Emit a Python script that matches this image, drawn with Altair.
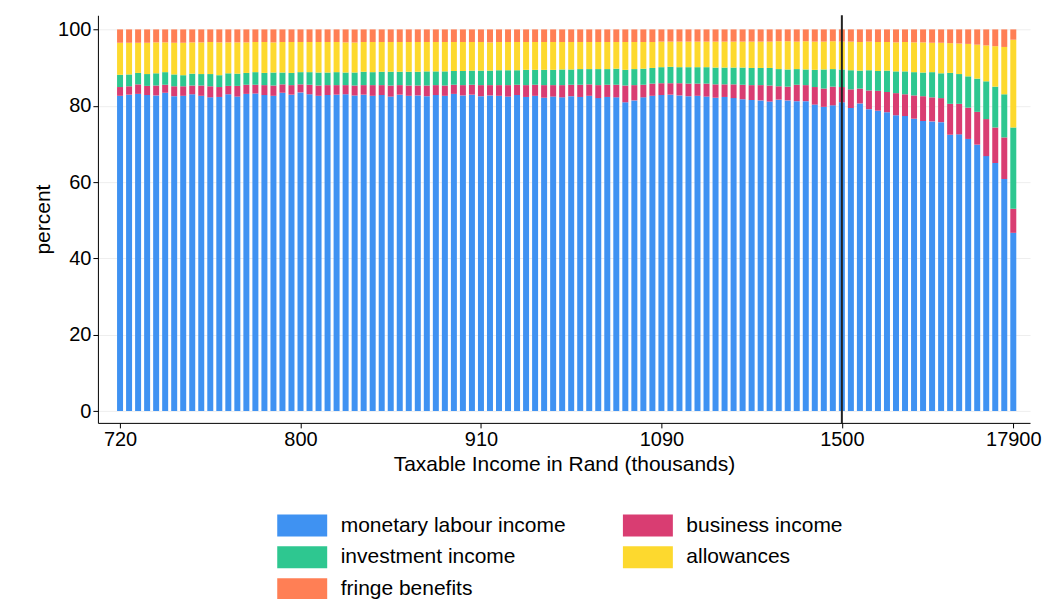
import pandas as pd
import altair as alt

labour = [82.6, 82.9, 83.1, 82.8, 82.7, 83.4, 82.5, 82.6, 83.0, 82.6, 82.2, 82.3, 83.0, 82.4, 83.1, 83.2, 82.8, 82.6, 83.4, 82.9,
          83.5, 83.0, 82.6, 82.8, 82.9, 83.0, 82.7, 82.9, 82.6, 82.8, 82.4, 82.9, 82.6, 82.7, 82.5, 82.8, 82.6, 83.1, 82.7, 82.9,
          82.5, 82.7, 82.6, 82.4, 82.8, 82.3, 82.6, 82.1, 82.4, 82.2, 82.5, 82.3, 82.6, 82.0, 82.3, 82.2, 80.9, 81.4, 82.2, 82.6,
          82.8, 82.9, 82.7, 82.5, 82.6, 82.4, 82.1, 82.3, 82.0, 81.7, 81.5, 81.4, 81.1, 81.6, 81.4, 81.2, 81.2, 80.3, 79.7, 80.1,
          80.9, 79.4, 80.6, 79.1, 78.7, 78.3, 77.5, 77.3, 76.6, 76.0, 75.9, 75.7, 72.4, 72.5, 71.3, 69.8, 66.8, 65.0, 60.8, 46.7]
business = [2.3, 2.2, 2.5, 2.4, 2.6, 2.1, 2.6, 2.5, 2.3, 2.7, 2.9, 2.6, 2.2, 2.8, 2.4, 2.3, 2.6, 2.7, 2.2, 2.5,
            2.1, 2.5, 2.7, 2.6, 2.5, 2.4, 2.6, 2.5, 2.8, 2.6, 2.9, 2.5, 2.7, 2.6, 2.8, 2.6, 2.7, 2.4, 2.7, 2.6,
            2.9, 2.7, 2.8, 3.0, 2.7, 3.1, 2.9, 3.3, 3.0, 3.2, 3.0, 3.2, 3.0, 3.4, 3.2, 3.3, 4.4, 4.0, 3.3, 3.2,
            3.1, 3.0, 3.2, 3.3, 3.2, 3.4, 3.5, 3.3, 3.6, 3.8, 3.9, 4.0, 4.2,
            3.5, 3.6, 4.3, 4.2, 4.6, 4.8, 4.9, 4.0, 4.9, 3.9, 4.9, 5.2, 5.3, 5.8, 5.7, 6.1, 6.5, 6.3, 6.3, 8.1,
            8.0, 8.2, 8.6, 9.7, 9.3, 10.9, 6.3]
investment = [3.2, 3.1, 3.0, 3.1, 3.2, 3.3, 3.1, 2.9, 3.1, 3.0, 3.2, 3.1, 3.3, 3.2, 3.1, 3.3, 3.2, 3.4, 3.1, 3.2,
              3.2, 3.3, 3.4, 3.3, 3.4, 3.3, 3.4, 3.5, 3.4, 3.5, 3.6, 3.5, 3.6, 3.6, 3.7, 3.6, 3.7, 3.6, 3.7, 3.7,
              3.8, 3.8, 3.9, 3.9, 3.8, 4.0, 3.9, 4.0, 4.0, 4.1, 4.0, 4.1, 4.0, 4.2, 4.1, 4.2, 4.1, 4.2, 4.2, 4.1,
              4.2, 4.3, 4.2, 4.3, 4.3, 4.3, 4.4, 4.4, 4.4, 4.5, 4.5, 4.5, 4.6,
              4.5, 4.5, 4.1, 4.1, 4.5, 5.0, 4.6, 4.6, 5.0, 4.7, 5.3, 5.2, 5.6, 5.7, 6.0, 6.1, 6.2, 6.6, 6.5, 8.1,
              7.8, 8.2, 8.7, 9.9, 10.7, 11.3, 21.3]
allowances = [8.4, 8.3, 7.9, 8.2, 8.1, 7.8, 8.3, 8.5, 8.2, 8.3, 8.4, 8.6, 8.1, 8.2, 8.0, 7.9, 8.1, 7.9, 8.0, 8.1,
              7.9, 7.9, 8.0, 8.0, 7.9, 7.9, 7.9, 7.8, 7.9, 7.8, 7.8, 7.8, 7.8, 7.8, 7.7, 7.7, 7.7, 7.6, 7.6, 7.5,
              7.5, 7.4, 7.4, 7.4, 7.4, 7.3, 7.3, 7.3, 7.3, 7.2, 7.2, 7.1, 7.1, 7.1, 7.1, 7.0, 7.3, 7.1, 7.0, 6.8,
              6.7, 6.6, 6.7, 6.7, 6.7, 6.7, 6.8, 6.8, 6.8, 6.8, 6.9, 6.9, 6.9,
              7.3, 7.4, 7.2, 7.4, 7.4, 7.3, 7.3, 7.3, 7.5, 7.5, 7.5, 7.6, 7.5, 7.6, 7.7, 7.8, 7.9, 7.7, 8.0, 7.8,
              8.0, 8.5, 8.9, 9.4, 10.6, 12.4, 23.0]
tick_values = [0, 20, 40, 60, 80, 99]
tick_labels = ["720", "800", "910", "1090", "1500", "17900"]
series = ["monetary labour income", "business income", "investment income", "allowances", "fringe benefits"]
colors = ["#3f92f2", "#d93d72", "#2ec790", "#fdd92e", "#ff7f55"]

rows = []
for i in range(len(labour)):
    fringe = 100 - labour[i] - business[i] - investment[i] - allowances[i]
    vals = [labour[i], business[i], investment[i], allowances[i], fringe]
    for k, (s, v) in enumerate(zip(series, vals)):
        rows.append({"bin": i, "source": s, "pct": v, "order": k})
df = pd.DataFrame(rows)

label_map = "{" + ",".join(f"'{v}':'{l}'" for v, l in zip(tick_values, tick_labels)) + "}"

bars = alt.Chart(df).mark_bar(size=6).encode(
    x=alt.X("bin:Q", scale=alt.Scale(domain=[-1.9, 100.3], nice=False, zero=False),
            title="Taxable Income in Rand (thousands)",
            axis=alt.Axis(values=tick_values, labelExpr=f"{label_map}[datum.value]", grid=False,
                          labelFontSize=20, titleFontSize=21, titleFontWeight="normal",
                          domainColor="#000", tickColor="#000", labelColor="#000", titleColor="#000")),
    y=alt.Y("pct:Q", stack="zero", scale=alt.Scale(domain=[-3.1, 103.7], nice=False),
            title="percent",
            axis=alt.Axis(values=[0, 20, 40, 60, 80, 100], gridColor="#eeeeee",
                          labelFontSize=20, titleFontSize=21, titleFontWeight="normal",
                          domainColor="#000", tickColor="#000", labelColor="#000", titleColor="#000")),
    color=alt.Color("source:N", sort=series, scale=alt.Scale(domain=series, range=colors),
                    legend=alt.Legend(title=None, orient="none", legendX=192, legendY=498,
                                      direction="horizontal", columns=2,
                                      symbolType="M-2,-0.88h4v1.76h-4z", symbolSize=625,
                                      symbolOpacity=1, symbolStrokeWidth=0, labelOffset=26,
                                      labelFontSize=21, labelColor="#000", columnPadding=56,
                                      rowPadding=8, labelLimit=400)),
    order=alt.Order("order:Q"),
)

vline = alt.Chart(pd.DataFrame({"bin": [tick_values[4]]})).mark_rule(color="#222", strokeWidth=2).encode(
    x="bin:Q"
)

chart = (bars + vline).properties(
    width=933, height=408, padding={"left": 24, "top": 6, "right": 5, "bottom": 5}
).configure(font="Liberation Sans").configure_view(stroke=None)

chart.save("out.html", embed_options={"renderer": "svg", "actions": False})
